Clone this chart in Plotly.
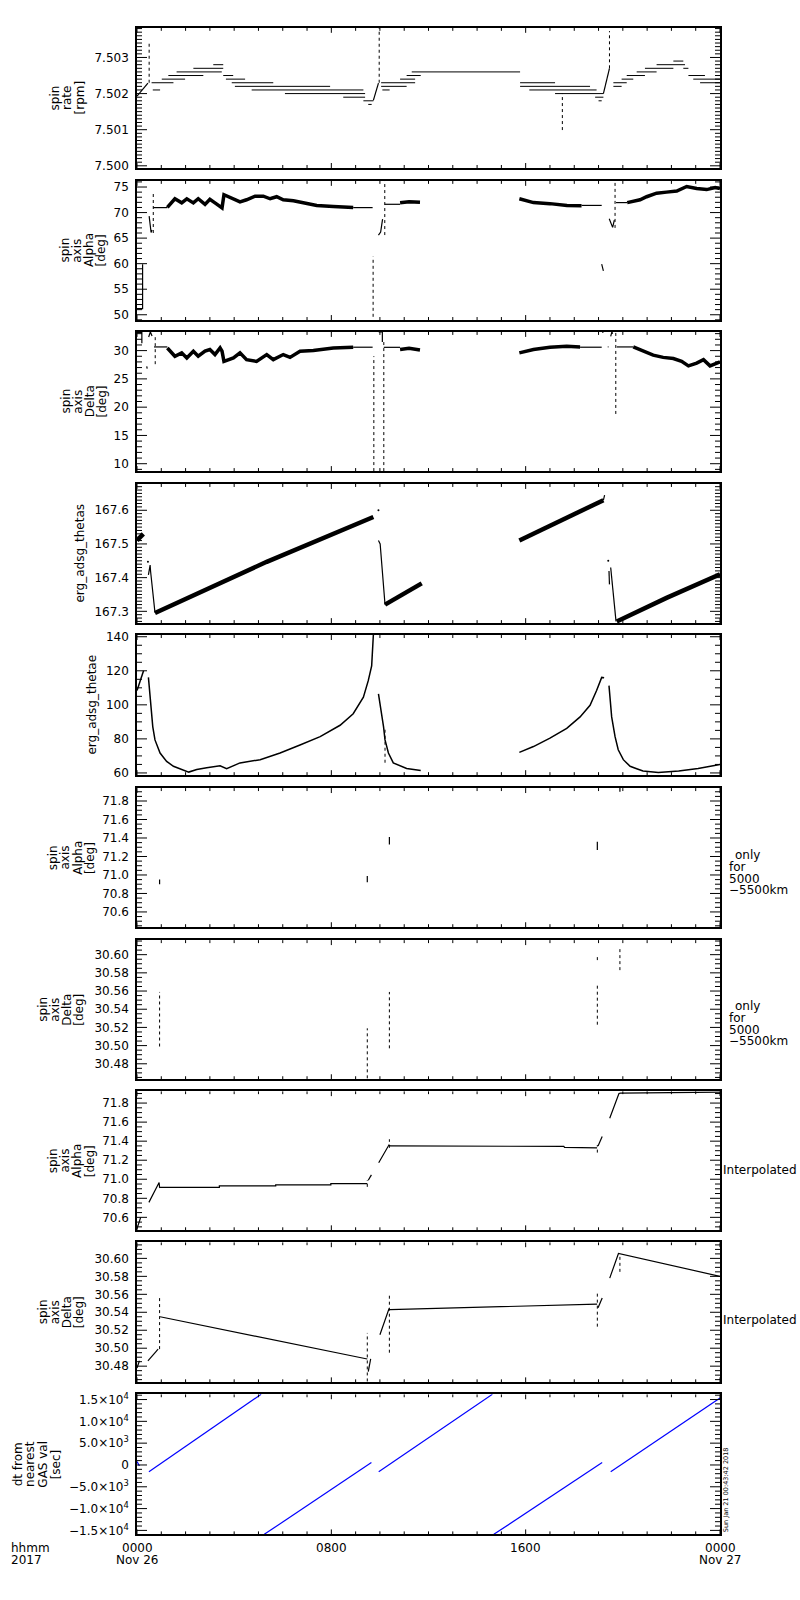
"""ERG spin / attitude summary for 2017-11-26, redrawn with Plotly.

Ten stacked panels sharing one time axis (hours since 00:00 UT):
- spin rate, spin axis Alpha / Delta
- erg_adsg_thetas / thetae
- Alpha / Delta only for 5000-5500 km, interpolated Alpha / Delta
- dt from nearest GAS value
"""

import math

import plotly.graph_objects as go
from plotly.subplots import make_subplots


# ============================================================================
# DATA  (time in hours from 2017-11-26 00:00)
# ============================================================================

# --- panel 1 : spin rate [rpm], quantised levels drawn as horizontal runs
P1_RUN_START = [0.60, 0.65, 1.02, 1.29, 1.63, 2.32, 3.14, 3.55, 3.66, 3.90, 4.03, 4.72, 6.09, 8.49, 9.32, 9.52,
                10.05, 10.05, 10.10, 10.83, 11.10, 11.31, 15.77, 15.77, 16.15, 17.21, 18.86, 19.00,
                19.61, 19.61, 19.95, 20.16, 20.57, 20.91, 21.39, 22.08, 22.49, 22.70, 22.90, 23.18]
P1_RUN_END = [1.50, 0.95, 1.98, 2.73, 3.49, 3.55, 3.55, 3.96, 4.45, 5.61, 7.95, 9.32, 9.39, 9.39, 9.73, 9.66,
              11.45, 11.10, 10.40, 11.45, 11.68, 15.77, 17.21, 18.65, 18.92, 19.20, 19.20, 19.13,
              19.95, 20.16, 20.43, 20.91, 21.39, 22.08, 22.56, 22.49, 22.70, 23.38, 24.00, 24.00]
P1_RUN_LEVEL = [7.5023, 7.5021, 7.5024, 7.5025, 7.5026, 7.5027, 7.5028, 7.5025, 7.5024, 7.5023, 7.5022, 7.5021,
                7.5020, 7.5019, 7.5018, 7.5017,
                7.5023, 7.5022, 7.5021, 7.5024, 7.5025, 7.5026, 7.5023, 7.5022, 7.5021, 7.5020, 7.5019, 7.5018,
                7.5022, 7.5023, 7.5024, 7.5025, 7.5026, 7.5027, 7.5028, 7.5029, 7.5027, 7.5025, 7.5024, 7.5023]
P1_RAMP_H = [0.00, 0.45, None, 9.73, 9.94, None, 19.20, 19.45]
P1_RAMP_V = [7.50193, 7.50229, None, 7.50181, 7.50229, None, 7.50200, 7.50270]
P1_SPIKE_H = [0.50, 9.97, 17.51, 19.45]
P1_SPIKE_LO = [7.50230, 7.50230, 7.50099, 7.50270]
P1_SPIKE_HI = [7.50342, 7.50385, 7.50200, 7.50373]

# --- panel 2 : spin axis Alpha [deg]
P2_LINE_H = [0.00, 0.23, 0.23, None, 0.50, 0.58, 0.62, None, 0.67, 1.25, None, 8.90, 9.70, None,
             9.94, 10.03, 10.11, None, 10.20, 10.83, None, 18.30, 19.13, None, 19.13, 19.20, None,
             19.44, 19.58, 19.65, None, 19.72, 20.18]
P2_LINE_V = [51.2, 51.2, 59.9, None, 69.3, 66.1, 66.6, None, 70.97, 70.97, None, 70.97, 70.97, None,
             65.6, 66.2, 68.7, None, 71.62, 71.62, None, 71.40, 71.40, None, 59.9, 58.6, None,
             68.8, 67.1, 68.5, None, 71.95, 71.95]
P2_BAND_H = [1.25, 1.56, 1.84, 2.05, 2.32, 2.52, 2.80, 3.00, 3.21, 3.42, 3.50, 3.58, 3.83, 4.24, 4.51, 4.86,
             5.20, 5.48, 5.75, 6.02, 6.44, 6.85, 7.40, 8.08, 8.90, None,
             10.83, 11.20, 11.65, None,
             15.74, 16.32, 17.00, 17.70, 18.30, None,
             20.18, 20.71, 20.98, 21.39, 21.80, 22.22, 22.63, 23.04, 23.45, 23.80, 24.00]
P2_BAND_V = [71.0, 72.7, 71.9, 72.7, 71.9, 72.7, 71.6, 72.6, 71.9, 71.1, 70.9, 73.5, 73.0, 72.1, 72.5, 73.2,
             73.2, 72.7, 73.1, 72.5, 72.3, 71.95, 71.4, 71.2, 70.97, None,
             71.9, 72.1, 72.0, None,
             72.7, 71.95, 71.75, 71.4, 71.35, None,
             71.95, 72.5, 73.1, 73.8, 74.0, 74.2, 75.1, 74.7, 74.5, 74.9, 74.7]
P2_SPIKE_H = [0.67, 9.72, 10.20, 19.68]
P2_SPIKE_LO = [66.0, 49.6, 65.6, 67.0]
P2_SPIKE_HI = [74.1, 61.4, 76.5, 76.5]

# --- panel 3 : spin axis Delta [deg]
P3_LINE_H = [0.00, 0.20, 0.20, None, 0.40, 0.42, None, 0.48, 0.55, 0.62, None, 0.70, 1.25, None,
             8.90, 9.70, None, 9.95, 10.10, 10.10, None, 10.16, 10.83, None, 18.24, 19.13, None,
             19.15, 19.20, None, 19.38, 19.41, None, 19.50, 19.55, 19.58, None, 19.75, 20.43]
P3_LINE_V = [33.2, 33.2, 31.3, None, 27.2, 26.8, None, 32.4, 33.3, 32.6, None, 30.65, 30.65, None,
             30.60, 30.60, None, 33.3, 33.3, 31.5, None, 30.58, 30.58, None, 30.60, 30.60, None,
             33.3, 33.2, None, 30.65, 30.65, None, 32.5, 33.3, 33.0, None, 30.65, 30.65]
P3_BAND_H = [1.25, 1.56, 1.84, 2.05, 2.32, 2.52, 2.80, 3.00, 3.21, 3.42, 3.50, 3.58, 3.97, 4.24, 4.51, 4.92,
             5.34, 5.61, 6.02, 6.30, 6.71, 7.26, 8.08, 8.90, None,
             10.83, 11.20, 11.65, None,
             15.74, 16.32, 17.00, 17.69, 18.24, None,
             20.43, 20.84, 21.25, 21.66, 22.08, 22.42, 22.70, 23.04, 23.32, 23.59, 24.00]
P3_BAND_V = [30.47, 29.0, 29.6, 28.7, 29.9, 29.0, 29.9, 30.2, 29.3, 30.47, 29.9, 28.1, 28.7, 29.6, 28.4, 28.1,
             29.3, 28.4, 29.3, 28.8, 29.9, 30.0, 30.47, 30.58, None,
             30.2, 30.4, 30.1, None,
             29.6, 30.2, 30.58, 30.75, 30.65, None,
             30.65, 29.9, 29.2, 28.8, 28.6, 28.1, 27.3, 27.8, 28.4, 27.3, 28.0]
P3_SPIKE_H = [0.75, 9.75, 10.16, 19.71]
P3_SPIKE_LO = [27.6, 8.7, 8.7, 18.8]
P3_SPIKE_HI = [32.4, 29.0, 31.8, 33.3]

# --- panel 4 : erg_adsg_thetas
P4_LINE_H = [0.47, 0.54, 0.56, 0.74, None, 9.94, 10.01, 10.21, None, 19.20, 19.25, None,
             19.43, 19.45, None, 19.50, 19.72]
P4_LINE_V = [167.408, 167.437, 167.418, 167.296, None, 167.51, 167.50, 167.32, None, 167.63, 167.645, None,
             167.42, 167.38, None, 167.43, 167.27]
P4_BAND_H = [0.00, 0.26, None, 0.74, 5.34, 9.73, None, 10.21, 11.72, None, 15.74, 19.20, None, 19.75, 21.80, 24.00]
P4_BAND_V = [167.51, 167.53, None, 167.295, 167.447, 167.58, None, 167.32, 167.383, None, 167.51, 167.63, None,
             167.27, 167.34, 167.41]
P4_DOT_H = [0.45, 9.94, 19.40]
P4_DOT_V = [167.447, 167.60, 167.45]

# --- panel 5 : erg_adsg_thetae
P5_LINE_H = [0.00, 0.14, 0.27, None, 0.47, 0.54, 0.65, 0.74, 0.95, 1.22, 1.50, 2.13, 2.46, 2.87, 3.42, 3.69,
             4.24, 5.07, 5.89, 6.71, 7.54, 8.36, 8.90, 9.32, 9.52, 9.66, 9.73, None,
             9.94, 10.08, 10.15, 10.21, 10.35, 10.55, 10.73, 11.10, 11.68, None,
             15.74, 16.32, 17.00, 17.69, 18.24, 18.65, 18.92, 19.13, 19.23, None,
             19.43, 19.47, 19.54, 19.68, 19.81, 20.02, 20.30, 20.57, 20.83, 21.46, 22.30, 23.10, 24.00]
P5_LINE_V = [108.4, 115.2, 120.0, None, 116.1, 102.6, 87.1, 79.4, 71.7, 66.8, 63.9, 60.5, 62.0, 63.0, 64.2, 62.5,
             65.9, 67.8, 71.7, 76.4, 81.3, 88.0, 94.8, 104.5, 114.2, 122.9, 141.0, None,
             106.4, 94.8, 87.1, 79.4, 71.7, 65.9, 64.9, 62.6, 61.4, None,
             72.1, 75.5, 80.4, 86.2, 92.9, 99.7, 108.4, 116.1, 115.9, None,
             111.3, 102.6, 92.9, 81.3, 73.6, 67.8, 63.9, 62.5, 61.1, 60.3, 61.1, 62.6, 64.9]
P5_SPIKE_H = [10.21]
P5_SPIKE_LO = [66.0]
P5_SPIKE_HI = [87.0]

# --- panel 6 : Alpha, only for 5000-5500 km
P6_MARK_H = [0.93, 9.48, 10.39, 18.95, 19.88]
P6_MARK_LO = [70.90, 70.92, 71.33, 71.27, 71.90]
P6_MARK_HI = [70.95, 70.99, 71.41, 71.36, 71.94]

# --- panel 7 : Delta, only for 5000-5500 km
P7_MARK_H = [0.93, 9.48, 10.39, 18.95, 18.95, 19.88]
P7_MARK_LO = [30.499, 30.464, 30.497, 30.523, 30.594, 30.583]
P7_MARK_HI = [30.559, 30.519, 30.559, 30.566, 30.598, 30.607]

# --- panel 8 : Alpha, interpolated
P8_LINE_H = [0.00, 0.15, None, 0.49, 0.91, 0.93, 0.95, 3.39, 3.39, 5.71, 5.71, 7.98, 7.98, 9.48, None,
             9.52, 9.65, None, 9.95, 10.37, 10.42, 14.52, 17.57, 17.60, 18.94, None,
             18.98, 19.15, None, 19.46, 19.84, 19.90, 24.00]
P8_LINE_V = [70.48, 70.60, None, 70.757, 70.966, 70.91, 70.915, 70.915, 70.93, 70.93, 70.94, 70.94, 70.955,
             70.955, None,
             70.99, 71.046, None, 71.174, 71.359, 71.35, 71.35, 71.345, 71.335, 71.33, None,
             71.35, 71.45, None, 71.64, 71.90, 71.905, 71.915]
P8_SPIKE_H = [9.48, 10.39, 18.95]
P8_SPIKE_LO = [70.92, 71.33, 71.28]
P8_SPIKE_HI = [70.99, 71.42, 71.36]

# --- panel 9 : Delta, interpolated
P9_LINE_H = [0.00, 0.10, None, 0.45, 0.87, None, 0.95, 9.48, None, 9.52, 9.62, None,
             10.00, 10.37, 10.42, 18.94, None, 18.98, 19.15, None, 19.46, 19.82, 24.00]
P9_LINE_V = [30.478, 30.486, None, 30.486, 30.499, None, 30.535, 30.488, None, 30.474, 30.488, None,
             30.515, 30.5435, 30.543, 30.549, None, 30.545, 30.556, None, 30.578, 30.6055, 30.580]
P9_SPIKE_H = [0.93, 9.48, 10.39, 18.95, 19.88]
P9_SPIKE_LO = [30.499, 30.463, 30.495, 30.524, 30.585]
P9_SPIKE_HI = [30.559, 30.517, 30.559, 30.564, 30.605]

# --- panel 10 : dt from nearest GAS value [sec]
P10_H = [0.00, 0.10, None, 0.49, 5.11, None, 5.24, 9.65, None, 9.95, 14.63, None, 14.69, 19.15, None, 19.50, 24.00]
P10_V = [800, -200, None, -1560, 16200, None, -15910, 550, None, -1560, 16200, None, -15910, 550, None, -1560, 15360]
P10_TICKS = [-15000, -10000, -5000, 0, 5000, 10000, 15000]
P10_TICKTEXT = ["\u22121.5\u00d710<sup>4</sup>", "\u22121.0\u00d710<sup>4</sup>", "\u22125.0\u00d710<sup>3</sup>",
                "0", "5.0\u00d710<sup>3</sup>", "1.0\u00d710<sup>4</sup>", "1.5\u00d710<sup>4</sup>"]

# time axis labels
X_TICK_HOURS = [0, 8, 16, 24]
X_TICK_TIME = ["0000", "0800", "1600", "0000"]
X_TICK_DATE = ["Nov 26", "", "", "Nov 27"]


# ============================================================================
# MISE EN PAGE (pixel layout of the 800x1600 page)
# ============================================================================

W, H = 800, 1600
FONT = "DejaVu Sans"
BLACK = "#000000"
BLUE = "#0000FF"
X_LEFT_PX, X_RIGHT_PX = 137, 720

PANEL_TOP_PX = [23, 177, 329, 482, 634, 788, 941, 1093, 1245, 1398]
PANEL_BOT_PX = [164, 317, 469, 622, 775, 928, 1081, 1233, 1386, 1539]

Y_RANGES = [
    [7.49994, 7.50382], [48.97, 76.2], [8.7, 33.3], [167.265, 167.678], [58.7, 141.0],
    [70.435, 71.94], [30.463, 30.616], [70.464, 71.925], [30.462, 30.618], [-15911, 16207],
]

# (major dtick, minor dtick, tickformat) - all tick series start from 0
Y_TICKS = [
    (0.001, 0.0001, ".3f"), (5, 1, "d"), (5, 1, "d"), (0.1, 0.01, ".1f"), (20, 5, "d"),
    (0.2, 0.05, ".1f"), (0.02, 0.005, ".2f"), (0.2, 0.05, ".1f"), (0.02, 0.005, ".2f"), (None, 1000, None),
]

# tick lengths in pixels (IDL style: inside, on all four sides)
X_MAJOR_LEN, X_MINOR_LEN = 5, 3
Y_MAJOR_LEN, Y_MINOR_LEN = 10, 5

# (lines, centre x px, line pitch px)
Y_TITLES = [
    (["spin", "rate", "[rpm]"], 67, 12.5),
    (["spin", "axis", "Alpha", "[deg]"], 83.5, 12.3),
    (["spin", "axis", "Delta", "[deg]"], 83.5, 12.3),
    (["erg_adsg_thetas"], 80, 12),
    (["erg_adsg_thetae"], 92.5, 12),
    (["spin", "axis", "Alpha", "[deg]"], 71, 12.3),
    (["spin", "axis", "Delta", "[deg]"], 61, 12),
    (["spin", "axis", "Alpha", "[deg]"], 71, 12.3),
    (["spin", "axis", "Delta", "[deg]"], 61, 12),
    (["dt from", "nearest", "GAS val", "[sec]"], 37, 12.7),
]


# ============================================================================
# HELPERS
# ============================================================================

def runs_xy(starts, ends, levels):
    """Horizontal runs -> x/y arrays with gaps."""
    xs, ys = [], []
    for a, b, v in zip(starts, ends, levels):
        xs += [a, b, None]
        ys += [v, v, None]
    return xs, ys


def verticals_xy(hours, lo, hi):
    """Vertical strokes at given hours -> x/y arrays with gaps."""
    xs, ys = [], []
    for h, a, b in zip(hours, lo, hi):
        xs += [h, h, None]
        ys += [a, b, None]
    return xs, ys


def tick_marks_xy(i):
    """Inside tick marks on the four sides of panel i, in the panel's axis units."""
    r0, r1 = Y_RANGES[i]
    y_per_px = (r1 - r0) / (PANEL_BOT_PX[i] - PANEL_TOP_PX[i])
    h_per_px = 24 / (X_RIGHT_PX - X_LEFT_PX)
    xs, ys = [], []

    # time ticks: every hour, longer every 8 hours (bottom and top)
    for hr in range(25):
        ln = (X_MAJOR_LEN if hr % 8 == 0 else X_MINOR_LEN) * y_per_px
        xs += [hr, hr, None, hr, hr, None]
        ys += [r0, r0 + ln, None, r1, r1 - ln, None]

    # value ticks (left and right)
    dtick, mdtick, _ = Y_TICKS[i]
    if dtick is None:
        majors = [v for v in P10_TICKS if r0 <= v <= r1]
    else:
        majors = [k * dtick for k in range(math.ceil(r0 / dtick - 1e-9), math.floor(r1 / dtick + 1e-9) + 1)]
    minors = [k * mdtick for k in range(math.ceil(r0 / mdtick - 1e-9), math.floor(r1 / mdtick + 1e-9) + 1)]
    tol = mdtick * 1e-3
    minors = [v for v in minors if all(abs(v - m) > tol for m in majors)]
    for vals, ln_px in ((minors, Y_MINOR_LEN), (majors, Y_MAJOR_LEN)):
        ln = ln_px * h_per_px
        for v in vals:
            xs += [0, ln, None, 24, 24 - ln, None]
            ys += [v, v, None, v, v, None]
    return xs, ys


def add_line(fig, row, x, y, width=1.0, dash=None, color=BLACK):
    fig.add_trace(go.Scatter(
        x=x, y=y, mode="lines",
        line=dict(color=color, width=width, dash=dash),
        hoverinfo="skip", showlegend=False,
    ), row=row, col=1)


def add_text(fig, text, x_px, y_px, size=12, angle=0, xanchor="center"):
    fig.add_annotation(
        text=text, x=x_px / W, y=1 - y_px / H, xref="paper", yref="paper",
        showarrow=False, textangle=angle, xanchor=xanchor, yanchor="middle",
        font=dict(family=FONT, size=size, color=BLACK),
    )


# ============================================================================
# FIGURE
# ============================================================================

fig = make_subplots(rows=10, cols=1)

DOTTED = "dot"

# panel 1
x, y = runs_xy(P1_RUN_START, P1_RUN_END, P1_RUN_LEVEL)
add_line(fig, 1, x, y, width=1.0)
add_line(fig, 1, P1_RAMP_H, P1_RAMP_V, width=1.2)
x, y = verticals_xy(P1_SPIKE_H, P1_SPIKE_LO, P1_SPIKE_HI)
add_line(fig, 1, x, y, width=1.0, dash=DOTTED)

# panels 2-3
for row, lh, lv, bh, bv, sh, slo, shi in [
    (2, P2_LINE_H, P2_LINE_V, P2_BAND_H, P2_BAND_V, P2_SPIKE_H, P2_SPIKE_LO, P2_SPIKE_HI),
    (3, P3_LINE_H, P3_LINE_V, P3_BAND_H, P3_BAND_V, P3_SPIKE_H, P3_SPIKE_LO, P3_SPIKE_HI),
]:
    add_line(fig, row, lh, lv, width=1.2)
    add_line(fig, row, bh, bv, width=3.5)
    x, y = verticals_xy(sh, slo, shi)
    add_line(fig, row, x, y, width=1.0, dash=DOTTED)

# panel 4
add_line(fig, 4, P4_LINE_H, P4_LINE_V, width=1.2)
add_line(fig, 4, P4_BAND_H, P4_BAND_V, width=4.5)
fig.add_trace(go.Scatter(x=P4_DOT_H, y=P4_DOT_V, mode="markers",
                         marker=dict(color=BLACK, size=2), hoverinfo="skip", showlegend=False),
              row=4, col=1)

# panel 5
add_line(fig, 5, P5_LINE_H, P5_LINE_V, width=1.5)
x, y = verticals_xy(P5_SPIKE_H, P5_SPIKE_LO, P5_SPIKE_HI)
add_line(fig, 5, x, y, width=1.0, dash=DOTTED)

# panels 6-7 (only for 5000-5500 km)
x, y = verticals_xy(P6_MARK_H, P6_MARK_LO, P6_MARK_HI)
add_line(fig, 6, x, y, width=1.2)
x, y = verticals_xy(P7_MARK_H, P7_MARK_LO, P7_MARK_HI)
add_line(fig, 7, x, y, width=1.0, dash=DOTTED)

# panels 8-9 (interpolated)
add_line(fig, 8, P8_LINE_H, P8_LINE_V, width=1.2)
x, y = verticals_xy(P8_SPIKE_H, P8_SPIKE_LO, P8_SPIKE_HI)
add_line(fig, 8, x, y, width=1.0, dash=DOTTED)
add_line(fig, 9, P9_LINE_H, P9_LINE_V, width=1.2)
x, y = verticals_xy(P9_SPIKE_H, P9_SPIKE_LO, P9_SPIKE_HI)
add_line(fig, 9, x, y, width=1.0, dash=DOTTED)

# panel 10
add_line(fig, 10, P10_H, P10_V, width=1.2, color=BLUE)


# --- axes : box + y labels from the axes, inside tick marks drawn per panel
for i in range(10):
    row = i + 1
    top, bot = PANEL_TOP_PX[i], PANEL_BOT_PX[i]
    box = dict(showline=True, linecolor=BLACK, linewidth=1.5, mirror=True,
               ticks="", showgrid=False, zeroline=False)
    fig.update_xaxes(row=row, col=1, range=[0, 24], domain=[X_LEFT_PX / W, X_RIGHT_PX / W],
                     dtick=8, showticklabels=False, **box)
    dtick, mdtick, fmt = Y_TICKS[i]
    yopts = dict(range=Y_RANGES[i], domain=[1 - bot / H, 1 - top / H], ticklabelstandoff=4)
    if dtick is None:
        yopts.update(tickmode="array", tickvals=P10_TICKS, ticktext=P10_TICKTEXT)
    else:
        yopts.update(tick0=0, dtick=dtick, tickformat=fmt)
    fig.update_yaxes(row=row, col=1, **yopts, **box)

    x, y = tick_marks_xy(i)
    add_line(fig, row, x, y, width=1.0)

    # y axis title, stacked rotated lines
    lines, cx, pitch = Y_TITLES[i]
    cy = (top + bot) / 2
    nl = len(lines)
    for k, line in enumerate(lines):
        add_text(fig, line, cx + (k - (nl - 1) / 2) * pitch, cy, angle=-90)

# --- time axis labels (bottom panel)
for h, t, d in zip(X_TICK_HOURS, X_TICK_TIME, X_TICK_DATE):
    for txt, ypx in [(t, 1553), (d, 1565)]:
        if txt:
            fig.add_annotation(text=txt, x=h, y=1 - ypx / H, xref="x10", yref="paper",
                               showarrow=False, xanchor="center", yanchor="middle",
                               font=dict(family=FONT, size=12, color=BLACK))
add_text(fig, "hhmm", 9, 1553, xanchor="left")
add_text(fig, "2017", 9, 1565, xanchor="left")

# --- right hand notes
for base in (855, 1007):
    add_text(fig, "only", 733, base, xanchor="left")
    add_text(fig, "for", 727, base + 12, xanchor="left")
    add_text(fig, "5000", 727, base + 24, xanchor="left")
    add_text(fig, "\u22125500km", 727, base + 36, xanchor="left")
add_text(fig, "Interpolated", 721, 1172, xanchor="left")
add_text(fig, "Interpolated", 721, 1323, xanchor="left")
add_text(fig, "Sun Jan 21 00:43:42 2018", 725.5, 1494, size=6.5, angle=-90)

fig.update_layout(
    width=W, height=H,
    margin=dict(l=0, r=0, t=0, b=0),
    paper_bgcolor="white", plot_bgcolor="white",
    showlegend=False,
    font=dict(family=FONT, size=12, color=BLACK),
)

fig.write_html("out.html", config={"displayModeBar": False},
               post_script="document.body.style.margin='0';")
